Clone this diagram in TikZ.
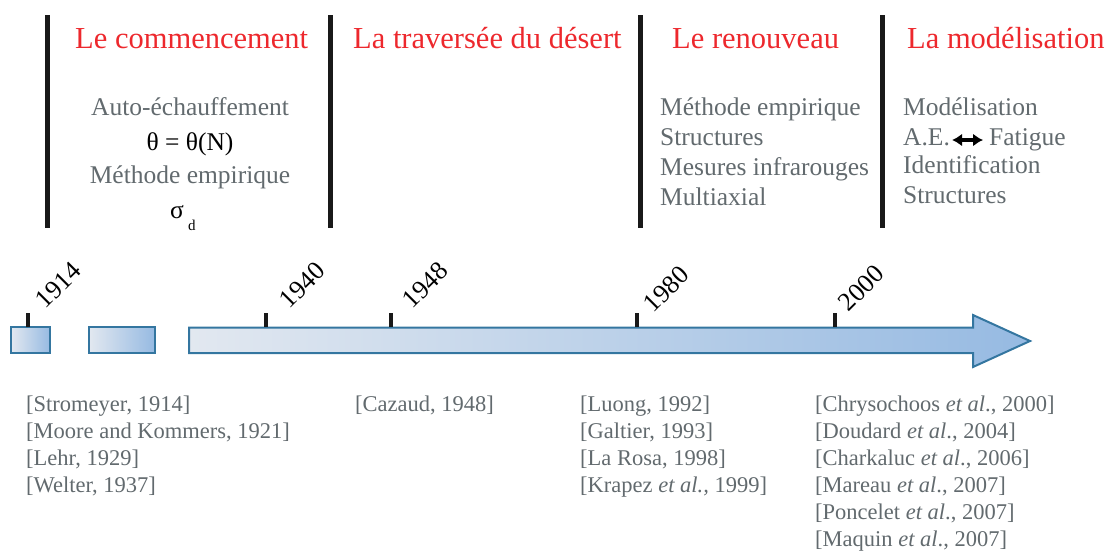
\documentclass[tikz,border=0pt]{standalone}
\usepackage{fontspec}
\setmainfont{Liberation Serif}
\usetikzlibrary{arrows.meta,positioning}
\definecolor{titlered}{RGB}{237,40,45}
\definecolor{textgray}{RGB}{98,106,110}
\definecolor{axisblue}{RGB}{52,118,160}
\definecolor{shadelight}{RGB}{226,232,240}
\definecolor{shadedark}{RGB}{150,186,226}

\begin{document}
\begin{tikzpicture}[x=1pt,y=-1pt,
  period/.style={text=titlered, anchor=base west, inner sep=0pt, font=\fontsize{30.5}{36}\selectfont},
  topic/.style={text=textgray, anchor=base west, inner sep=0pt, font=\fontsize{25.5}{30}\selectfont},
  cite/.style={text=textgray, anchor=base west, inner sep=0pt, font=\fontsize{22.5}{26}\selectfont},
  year/.style={rotate=45, anchor=south west, inner sep=0pt, font=\fontsize{26}{30}\selectfont}]
\useasboundingbox (0,0) rectangle (1110,550);

% periods
\foreach \x in {47,330,640,882}
  \draw[line width=5pt, black!90] (\x,15) -- (\x,228);
\node[period] (p1) at (75,48) {Le commencement};
\node[period] (p2) at (353,48) {La traversée du désert};
\node[period] (p3) at (672,48) {Le renouveau};
\node[period] (p4) at (907,48) {La modélisation};

% topics
\node[topic, anchor=base] (t11) at (190,115) {Auto-échauffement};
\node[topic, anchor=base, text=black] (t12) at (190,150) {θ = θ(N)};
\node[topic, anchor=base] (t13) at (190,183) {Méthode empirique};
\node[topic, anchor=base west, text=black] (t14) at (170,218) {σ\,\raisebox{-12pt}{\fontsize{15}{15}\selectfont d}};
\foreach \txt [count=\i] in {Méthode empirique, Structures, Mesures infrarouges, Multiaxial}
  \node[topic] (t3\i) at (660,85+30*\i) {\txt};
\node[topic] (t41) at (903,115) {Modélisation};
\node[topic] (t42) at (903,145) {A.E.};
\node[topic] (t43) at (989,145) {Fatigue};
\node[topic] (t44) at (903,173) {Identification};
\node[topic] (t45) at (903,203) {Structures};
\draw[line width=4.5pt, {Latex[length=10pt,width=13pt]}-{Latex[length=10pt,width=13pt]}]
  ([xshift=2pt,yshift=5pt]t42.base east) -- ([xshift=-6pt,yshift=5pt]t43.base west);

% time axis
\shadedraw[left color=shadelight, right color=shadedark, draw=axisblue, line width=2pt]
  (11,327) rectangle (50,353);
\shadedraw[left color=shadelight, right color=shadedark, draw=axisblue, line width=2pt]
  (89,327) rectangle (155,353);
\shadedraw[left color=shadelight, right color=shadedark, draw=axisblue, line width=2pt]
  (189,327.5) -- (973,327.5) -- (973,315) -- (1030,341) -- (973,367) -- (973,353) -- (189,353) -- cycle;
\foreach \yr/\x/\dx/\dy in {1914/28/18/3, 1940/266/24/3, 1948/391/22/3, 1980/637/17/-1, 2000/835/14/0} {
  \draw[line width=3.5pt, black!90] (\x,327) -- ++(0,-14) coordinate (k\yr);
  \path (k\yr) ++(\dx,-\dy) node[year] (y\yr) {\yr};
}

% references
\foreach \txt [count=\i] in {{[Stromeyer, 1914]}, {[Moore and Kommers, 1921]}, {[Lehr, 1929]}, {[Welter, 1937]}}
  \node[cite] (r1\i) at (26,384+27*\i) {\txt};
\node[cite] (r21) at (355,411) {[Cazaud, 1948]};
\foreach \txt [count=\i] in {{[Luong, 1992]}, {[Galtier, 1993]}, {[La Rosa, 1998]}, {[Krapez \textit{et al.,} 1999]}}
  \node[cite] (r3\i) at (580,384+27*\i) {\txt};
\foreach \txt [count=\i] in {{[Chrysochoos \textit{et al}., 2000]}, {[Doudard \textit{et al}., 2004]},
  {[Charkaluc \textit{et al}., 2006]}, {[Mareau \textit{et al}., 2007]}, {[Poncelet \textit{et al}., 2007]},
  {[Maquin \textit{et al}., 2007]}}
  \node[cite] (r4\i) at (815,384+27*\i) {\txt};
\end{tikzpicture}
\end{document}
